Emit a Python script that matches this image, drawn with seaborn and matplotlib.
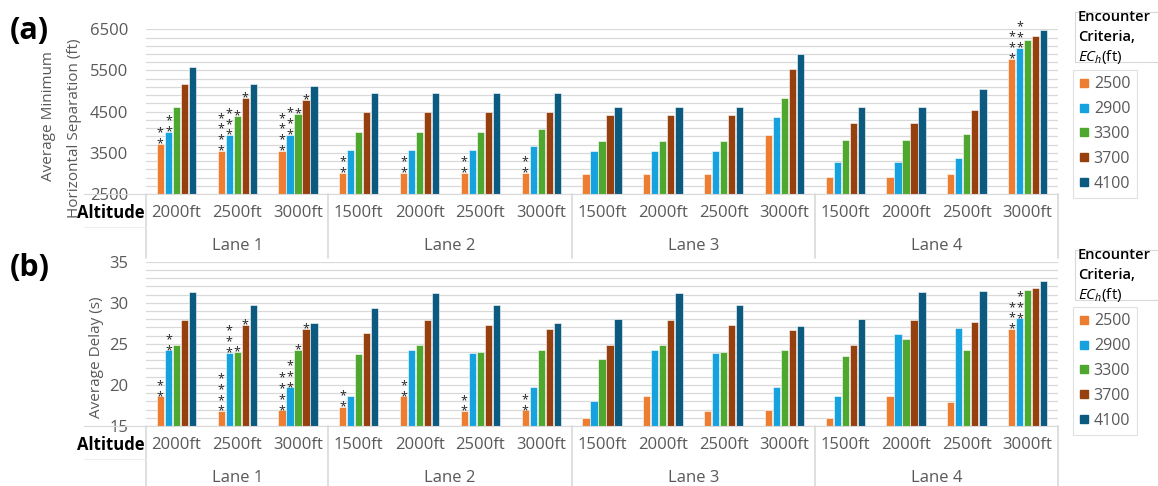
import matplotlib
matplotlib.use("Agg")
import matplotlib.pyplot as plt
import matplotlib.transforms as mtransforms
from matplotlib.lines import Line2D
from matplotlib.patches import Rectangle
import numpy as np
import pandas as pd
import seaborn as sns

# --- data -------------------------------------------------------------------
lanes = ["Lane 1", "Lane 2", "Lane 3", "Lane 4"]
lane_altitudes = [
    ["2000ft", "2500ft", "3000ft"],
    ["1500ft", "2000ft", "2500ft", "3000ft"],
    ["1500ft", "2000ft", "2500ft", "3000ft"],
    ["1500ft", "2000ft", "2500ft", "3000ft"],
]
criteria = ["2500", "2900", "3300", "3700", "4100"]

# (a) average minimum horizontal separation (ft), one value per lane/altitude
sep_2500 = [3720, 3550, 3550, 3020, 3020, 3020, 3020, 2990, 2990, 2990, 3930, 2910, 2910, 2980, 5790]
sep_2900 = [4010, 3930, 3940, 3570, 3570, 3570, 3670, 3550, 3550, 3550, 4370, 3280, 3280, 3370, 6040]
sep_3300 = [4610, 4400, 4440, 4010, 4010, 4010, 4070, 3790, 3790, 3790, 4840, 3800, 3800, 3960, 6240]
sep_3700 = [5170, 4840, 4790, 4490, 4500, 4500, 4500, 4410, 4410, 4410, 5530, 4230, 4230, 4540, 6330]
sep_4100 = [5580, 5180, 5130, 4950, 4950, 4950, 4950, 4620, 4620, 4620, 5890, 4620, 4620, 5050, 6490]

# (b) average delay (s)
delay_2500 = [18.6, 16.8, 16.9, 17.3, 18.6, 16.8, 16.9, 16.0, 18.6, 16.8, 16.9, 16.0, 18.6, 17.9, 26.8]
delay_2900 = [24.2, 23.9, 19.7, 18.7, 24.2, 23.9, 19.7, 18.0, 24.2, 23.9, 19.7, 18.6, 26.2, 26.9, 28.1]
delay_3300 = [24.9, 24.0, 24.3, 23.8, 24.9, 24.0, 24.3, 23.2, 24.9, 24.0, 24.3, 23.5, 25.6, 24.3, 31.6]
delay_3700 = [27.9, 27.3, 26.8, 26.3, 27.9, 27.3, 26.8, 24.9, 27.9, 27.3, 26.7, 24.9, 27.9, 27.7, 31.8]
delay_4100 = [31.3, 29.7, 27.5, 29.4, 31.2, 29.7, 27.5, 28.0, 31.2, 29.7, 27.2, 28.0, 31.3, 31.4, 32.6]

# number of significance asterisks above each bar (same for both panels)
stars_2500 = [2, 4, 4, 2, 2, 2, 2, 0, 0, 0, 0, 0, 0, 0, 3]
stars_2900 = [2, 3, 3, 0, 0, 0, 0, 0, 0, 0, 0, 0, 0, 0, 3]
stars_3300 = [0, 1, 1, 0, 0, 0, 0, 0, 0, 0, 0, 0, 0, 0, 0]
stars_3700 = [0, 1, 1, 0, 0, 0, 0, 0, 0, 0, 0, 0, 0, 0, 0]
stars_4100 = [0] * 15

colors = ["#ED7D31", "#16A2DE", "#4EA72E", "#97400F", "#0D5A80"]
GRAY = "#595959"
GRID = "#d9d9d9"

sns.set_style("white")
plt.rcParams["font.family"] = ["Open Sans", "DejaVu Sans"]
plt.rcParams["mathtext.fontset"] = "custom"
plt.rcParams["mathtext.it"] = "Open Sans:italic"
plt.rcParams["mathtext.rm"] = "Open Sans"

cat_keys = [f"{lane}|{alt}" for lane, alts in zip(lanes, lane_altitudes) for alt in alts]
alt_labels = [alt for alts in lane_altitudes for alt in alts]


def draw_panel(ax, values, stars, ylim, major, minor):
    n = len(cat_keys)
    data = pd.DataFrame({
        "category": np.tile(cat_keys, len(criteria)),
        "criteria": np.repeat(criteria, n),
        "value": np.concatenate(values),
    })
    sns.barplot(data=data, x="category", y="value", hue="criteria", order=cat_keys,
                hue_order=criteria, palette=colors, saturation=1, width=0.66, gap=0.1,
                edgecolor="white", linewidth=0.4, errorbar=None, legend=False, ax=ax)
    ax.set_ylim(*ylim)
    ax.set_xlim(-0.5, n - 0.5)
    ax.set_yticks(np.arange(ylim[0], ylim[1] + minor / 2, major))
    ax.set_yticks(np.arange(ylim[0], ylim[1] + minor / 2, minor), minor=True)
    ax.grid(which="both", axis="y", color=GRID, linewidth=0.9)
    ax.set_axisbelow(True)
    ax.set_xticks(range(n))
    ax.set_xticklabels(alt_labels)
    ax.tick_params(axis="both", which="both", length=0, labelsize=12, labelcolor=GRAY)
    ax.tick_params(axis="y", pad=13)
    ax.tick_params(axis="x", pad=8)
    ax.set_xlabel("")
    ax.set_ylabel("")
    for side in ["top", "right", "left"]:
        ax.spines[side].set_visible(False)
    ax.spines["bottom"].set_color(GRID)

    # asterisks, stacked one per line
    for container, counts in zip(ax.containers, stars):
        for bar, count in zip(container, counts):
            if count == 0:
                continue
            x = bar.get_x() + bar.get_width() / 2
            ax.annotate("\n".join(["*"] * count), xy=(x, bar.get_height()),
                        xytext=(0, -3.5), textcoords="offset pixels", ha="center",
                        va="baseline", fontsize=9, color="#222222", linespacing=0.78)

    # lane rows below the axis
    trans = mtransforms.blended_transform_factory(ax.transData, ax.transAxes)
    start = -0.5
    for lane, alts in zip(lanes, lane_altitudes):
        end = start + len(alts)
        ax.text((start + end) / 2, -0.315, lane, transform=trans, ha="center", va="center",
                fontsize=12, color=GRAY)
        start = end
    bounds = np.cumsum([0] + [len(a) for a in lane_altitudes]) - 0.5
    for b in bounds:
        ax.plot([b, b], [0, -0.39], transform=trans, color=GRID, lw=1.2, clip_on=False)
    ax.text(-0.001, -0.115, "Altitude", transform=ax.transAxes, ha="right", va="center",
            fontsize=12, fontweight="bold", color="black")
    ax.plot([-0.068, 0], [0, 0], transform=ax.transAxes, color=GRID, lw=0.8, clip_on=False)
    ax.plot([-0.068, 0], [-0.2, -0.2], transform=ax.transAxes, color="#eeeeee", lw=0.8,
            clip_on=False)


def add_legend(fig, title_top_px, box_top_px):
    W, H = 1158, 486
    fig.patches.append(Rectangle((1075 / W, 1 - (title_top_px + 50) / H), 90 / W, 50 / H,
                                 transform=fig.transFigure, fill=False, edgecolor=GRID, lw=0.8))
    fig.text(1078 / W, 1 - (title_top_px + 5) / H, "Encounter", ha="left", va="center",
             fontsize=10.5, fontweight="semibold", color="black")
    fig.text(1078 / W, 1 - (title_top_px + 25) / H, "Criteria,", ha="left", va="center",
             fontsize=10.5, fontweight="semibold", color="black")
    fig.text(1078 / W, 1 - (title_top_px + 45) / H, r"$EC_h$(ft)", ha="left", va="center",
             fontsize=11, color="black")
    handles = [Line2D([], [], marker="s", linestyle="", markersize=6, color=c) for c in colors]
    leg = fig.legend(handles, criteria, loc="upper left",
                     bbox_to_anchor=(1073 / W, 1 - box_top_px / H), borderaxespad=0,
                     frameon=True, fancybox=False, edgecolor=GRID, fontsize=11.5,
                     labelcolor=GRAY, handlelength=0.6, handletextpad=0.3, labelspacing=0.55,
                     borderpad=0.4)
    leg.get_frame().set_linewidth(0.8)


fig = plt.figure(figsize=(11.58, 4.86), dpi=100)
ax_a = fig.add_axes([0.1261, 0.6008, 0.7876, 0.3389])
ax_b = fig.add_axes([0.1261, 0.1235, 0.7876, 0.3380])

draw_panel(ax_a, [sep_2500, sep_2900, sep_3300, sep_3700, sep_4100],
           [stars_2500, stars_2900, stars_3300, stars_3700, stars_4100],
           (2500, 6500), 1000, 200)
draw_panel(ax_b, [delay_2500, delay_2900, delay_3300, delay_3700, delay_4100],
           [stars_2500, stars_2900, stars_3300, stars_3700, stars_4100],
           (15, 35), 5, 1)

fig.text(48 / 1158, 1 - 116 / 486, "Average Minimum", rotation=90, ha="center", va="center",
         fontsize=11, color=GRAY)
fig.text(75 / 1158, 1 - 128 / 486, "Horizontal Separation (ft)", rotation=90, ha="center",
         va="center", fontsize=11, color=GRAY)
fig.text(97 / 1158, 1 - 357 / 486, "Average Delay (s)", rotation=90, ha="center", va="center",
         fontsize=11, color=GRAY)

fig.text(10 / 1158, 1 - 31 / 486, "(a)", ha="left", va="center", fontsize=22,
         fontweight="bold", color="black")
fig.text(10 / 1158, 1 - 268 / 486, "(b)", ha="left", va="center", fontsize=22,
         fontweight="bold", color="black")

add_legend(fig, 12, 70)
add_legend(fig, 250, 307)

fig.savefig("out.png", dpi=100)
plt.close(fig)
